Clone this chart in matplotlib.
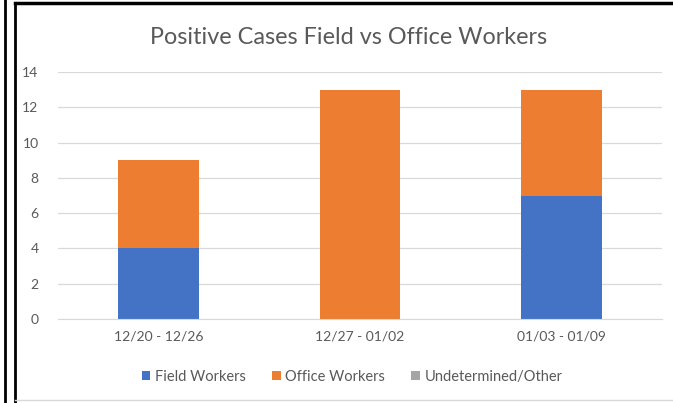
"""
Stacked bar chart of positive cases, field vs office workers
"""

import matplotlib.pyplot as plt
from matplotlib.lines import Line2D

weeks = ['12/20 - 12/26', '12/27 - 01/02', '01/03 - 01/09']
field_workers = [4, 0, 7]
office_workers = [5, 13, 6]
undetermined = [0, 0, 0]

plt.rcParams['font.family'] = ['Lato', 'DejaVu Sans']

fig = plt.figure(figsize=(6.73, 4.03), dpi=100)
ax = fig.add_axes([0.0862, 0.2084, 0.8975, 0.6129])

x = range(len(weeks))
width = 0.4
b1 = ax.bar(x, field_workers, width, color='#4472C4', label='Field Workers')
b2 = ax.bar(x, office_workers, width, bottom=field_workers, color='#ED7D31',
            label='Office Workers')
bottoms = [f + o for f, o in zip(field_workers, office_workers)]
b3 = ax.bar(x, undetermined, width, bottom=bottoms, color='#A5A5A5',
            label='Undetermined/Other')

# axes styling, excel-like
ax.set_xlim(-0.5, 2.5)
ax.set_ylim(0, 14)
ax.set_yticks(range(0, 15, 2))
ax.set_xticks(list(x))
ax.set_xticklabels(weeks)
ax.tick_params(axis='both', length=0, colors='#595959', labelsize=10)
ax.tick_params(axis='y', pad=14)
ax.tick_params(axis='x', pad=8)
ax.grid(axis='y', color='#D9D9D9', linewidth=0.9)
ax.set_axisbelow(True)
for side in ['top', 'right', 'left']:
    ax.spines[side].set_visible(False)
ax.spines['bottom'].set_color('#D9D9D9')

fig.text(0.518, 0.908, 'Positive Cases Field vs Office Workers', ha='center',
         va='center', fontsize=16.8, color='#595959')

fig.legend(handles=[b1, b2, b3], loc='center', bbox_to_anchor=(0.523, 0.065),
           ncol=3, frameon=False, fontsize=10.5, labelcolor='#595959',
           handlelength=0.6, handleheight=0.6, handletextpad=0.3,
           columnspacing=1.8)

# border lines around the picture
fig.add_artist(Line2D([5 / 673, 5 / 673], [0, 1], color='black', lw=2))
fig.add_artist(Line2D([15 / 673, 15 / 673], [0, 1 - 3 / 403], color='black', lw=2))
fig.add_artist(Line2D([15 / 673, 1], [1 - 3 / 403, 1 - 3 / 403], color='black', lw=2.5))
fig.add_artist(Line2D([15 / 673, 1], [3 / 403, 3 / 403], color='#D9D9D9', lw=1))

plt.savefig('out.png', dpi=100)
plt.close()
